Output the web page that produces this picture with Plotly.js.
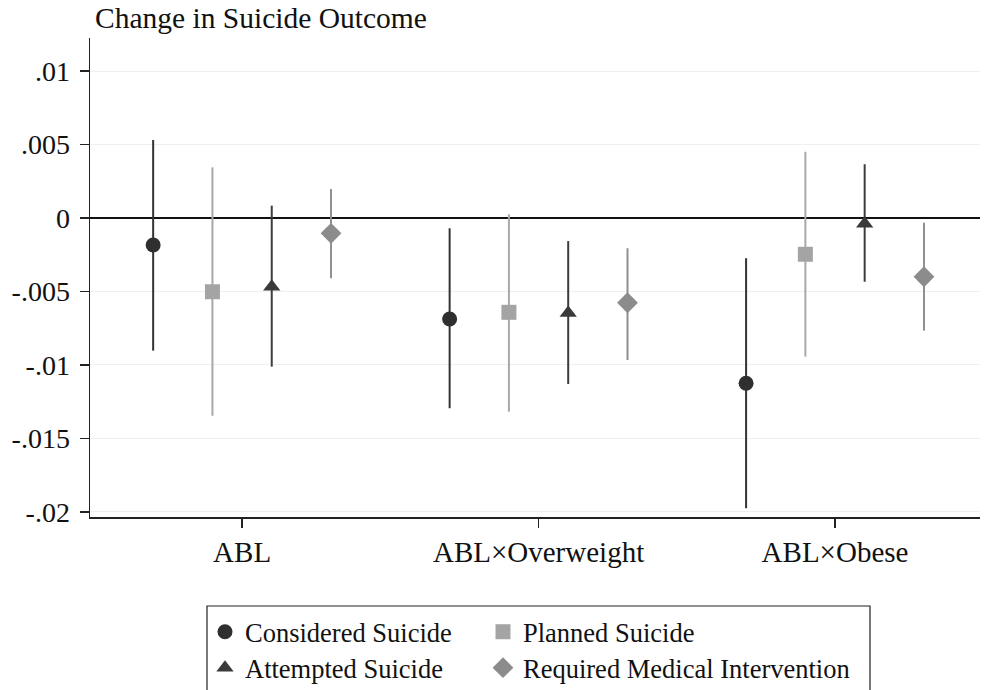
<!DOCTYPE html>
<html>
<head>
<meta charset="utf-8">
<script src="https://cdn.plot.ly/plotly-3.0.1.min.js"></script>
<style>
  html, body { margin: 0; padding: 0; background: #ffffff; }
  #chart { width: 984px; height: 690px; }
</style>
</head>
<body>
<div id="chart"></div>
<script>
// Coefficient estimates with 95% confidence bounds, one list per outcome
const categories = ["ABL", "ABL\u00d7Overweight", "ABL\u00d7Obese"];

const consideredEst = [-0.00184, -0.00688, -0.01125];
const consideredHi  = [ 0.00531, -0.00070, -0.00274];
const consideredLo  = [-0.00903, -0.01295, -0.01976];

const plannedEst = [-0.00502, -0.00642, -0.00247];
const plannedHi  = [ 0.00345,  0.00025,  0.00451];
const plannedLo  = [-0.01346, -0.01319, -0.00944];

const attemptedEst = [-0.00468, -0.00646, -0.00040];
const attemptedHi  = [ 0.00084, -0.00157,  0.00366];
const attemptedLo  = [-0.01012, -0.01130, -0.00434];

const medicalEst = [-0.00104, -0.00577, -0.00400];
const medicalHi  = [ 0.00197, -0.00206, -0.00032];
const medicalLo  = [-0.00410, -0.00967, -0.00767];

const yTickVals   = [0.01, 0.005, 0, -0.005, -0.01, -0.015, -0.02];
const yTickLabels = [".01", ".005", "0", "-.005", "-.01", "-.015", "-.02"];

const seriesNames = ["Considered Suicide", "Planned Suicide", "Attempted Suicide", "Required Medical Intervention"];

// ---- styling / layout helpers ----
const serif = "Liberation Serif, Times New Roman, serif";
const slot = 0.2;                 // horizontal spacing between outcomes inside a group
const nSeries = 4;

function positions(seriesIndex) {
  const shift = (seriesIndex - (nSeries - 1) / 2) * slot;
  return categories.map((_, i) => i + shift);
}

function makeTrace(idx, est, hi, lo, symbol, size, markerColor, lineColor, legendId, entryWidth) {
  return {
    type: "scatter",
    mode: "markers",
    name: seriesNames[idx],
    x: positions(idx),
    y: est,
    legend: legendId,
    legendwidth: entryWidth,
    marker: { symbol: symbol, size: size, color: markerColor, line: { width: 0 } },
    error_y: {
      type: "data",
      symmetric: false,
      array: est.map((v, i) => hi[i] - v),
      arrayminus: est.map((v, i) => v - lo[i]),
      color: lineColor,
      thickness: 2,
      width: 0
    },
    hoverinfo: "skip"
  };
}

// left legend column gets a fixed width so the right column lines up
const colWidth = 233, wideWidth = 360;

const traces = [
  makeTrace(0, consideredEst, consideredHi, consideredLo, "circle", 15, "#2f2f2f", "#333333", "legend", colWidth),
  makeTrace(1, plannedEst, plannedHi, plannedLo, "square", 15, "#a4a4a4", "#a8a8a8", "legend", wideWidth),
  makeTrace(2, attemptedEst, attemptedHi, attemptedLo, "triangle-up", 15, "#3a3a3a", "#3c3c3c", "legend2", colWidth),
  makeTrace(3, medicalEst, medicalHi, medicalLo, "diamond", 16, "#8c8c8c", "#8f8f8f", "legend2", wideWidth)
];

// plot-area geometry in pixels, used to place the legend frame
const W = 984, H = 690;
const M = { l: 90, r: 4, t: 38, b: 173 };
const PW = W - M.l - M.r, PH = H - M.t - M.b;
const px2x = px => (px - M.l) / PW;
const py2y = py => (H - M.b - py) / PH;
const py2c = py => 1 - py / H;     // container-relative height

const legendCommon = {
  orientation: "h",
  xref: "paper", yref: "container",
  xanchor: "left", yanchor: "middle",
  x: px2x(205),
  bgcolor: "rgba(0,0,0,0)",
  borderwidth: 0,
  font: { family: serif, size: 26.5, color: "#111111" }
};

const layout = {
  width: W, height: H,
  margin: Object.assign({ autoexpand: false }, M),
  paper_bgcolor: "#ffffff",
  plot_bgcolor: "#ffffff",
  font: { family: serif, color: "#111111" },
  showlegend: true,
  title: {
    text: "Change in Suicide Outcome",
    xref: "container", yref: "container",
    x: 95 / W, xanchor: "left",
    y: 1 - 18 / H, yanchor: "middle",
    font: { family: serif, size: 29.5, color: "#111111" }
  },
  xaxis: {
    range: [-0.513, 2.489],
    tickmode: "array",
    tickvals: categories.map((_, i) => i),
    ticktext: categories,
    ticks: "outside",
    ticklen: 9,
    tickwidth: 1.5,
    tickcolor: "#222222",
    showline: true,
    linecolor: "#222222",
    linewidth: 1.5,
    showgrid: false,
    zeroline: false,
    ticklabelstandoff: 0,
    tickfont: { family: serif, size: 29, color: "#111111" },
    fixedrange: true
  },
  yaxis: {
    range: [-0.020354, 0.012253],
    tickmode: "array",
    tickvals: yTickVals,
    ticktext: yTickLabels,
    ticks: "outside",
    ticklen: 9,
    tickwidth: 1.5,
    tickcolor: "#222222",
    showline: true,
    linecolor: "#222222",
    linewidth: 1.5,
    showgrid: true,
    gridcolor: "#efefef",
    gridwidth: 1,
    zeroline: true,
    zerolinecolor: "#111111",
    zerolinewidth: 2,
    ticklabelstandoff: 4,
    tickfont: { family: serif, size: 28, color: "#111111" },
    fixedrange: true
  },
  legend: Object.assign({}, legendCommon, { y: py2c(632) }),
  legend2: Object.assign({}, legendCommon, { y: py2c(668) }),
  shapes: [{
    type: "rect",
    xref: "paper", yref: "paper",
    x0: px2x(207), x1: px2x(870),
    y0: py2y(606), y1: py2y(702),
    line: { color: "#222222", width: 1.2 },
    fillcolor: "rgba(0,0,0,0)",
    layer: "above"
  }]
};

Plotly.newPlot("chart", traces, layout, { staticPlot: true, displayModeBar: false });
</script>
</body>
</html>
